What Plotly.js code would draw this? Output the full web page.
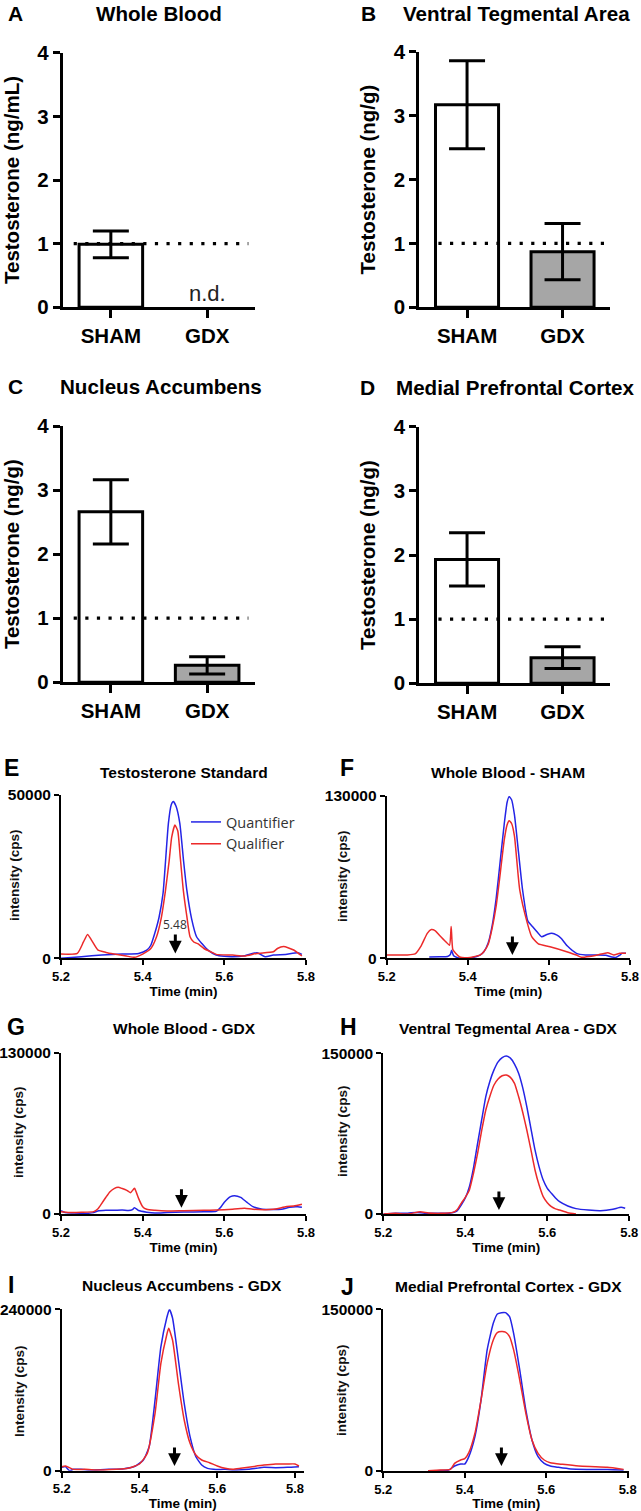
<!DOCTYPE html>
<html>
<head>
<meta charset="utf-8">
<script src="https://cdn.plot.ly/plotly-3.0.1.min.js"></script>
<style>
html,body{margin:0;padding:0;background:#ffffff;}
#chart{width:641px;height:1511px;}
</style>
</head>
<body>
<div id="chart"></div>
<script>
// ---------------- DATA ----------------
const groups = ['SHAM', 'GDX'];

// Testosterone (mean, SEM)
const bloodMean = [0.99, null];   // GDX not detected
const bloodSem  = [0.21, null];
const vtaMean   = [3.17, 0.87];
const vtaSem    = [0.69, 0.44];
const naccMean  = [2.66, 0.265];
const naccSem   = [0.50, 0.135];
const mpfcMean  = [1.93, 0.40];
const mpfcSem   = [0.415, 0.17];
const loqLevel  = [1];            // dotted limit line (ng)

// Chromatograms: time (min) and intensity (cps)
// E  Testosterone Standard
const stdQuantT = [5.20,5.25,5.30,5.35,5.39,5.41,5.42,5.43,5.44,5.45,5.455,5.463,5.47,5.475,5.482,5.491,5.50,5.508,5.52,5.532,5.545,5.56,5.58,5.60,5.62,5.65,5.68,5.70,5.72,5.75,5.78,5.79];
const stdQuant  = [0,500,1000,1300,1500,2500,4000,7800,12500,20000,28000,41300,47000,48000,46500,41300,30000,21000,12000,6600,4500,2500,1000,600,500,800,1700,500,1000,1200,1700,1200];
const stdQualT  = [5.20,5.24,5.255,5.265,5.275,5.29,5.31,5.33,5.36,5.38,5.40,5.42,5.434,5.445,5.456,5.465,5.471,5.479,5.486,5.492,5.4995,5.508,5.516,5.525,5.536,5.55,5.57,5.58,5.62,5.65,5.68,5.72,5.73,5.745,5.77,5.79];
const stdQual   = [1300,1500,5000,7300,5500,2600,1800,1300,700,300,1300,3000,6600,12000,20900,30000,37000,40800,39000,31000,20900,13000,6600,5000,4400,3000,1800,1200,1000,700,1500,2000,3000,3600,2550,700];

// F  Whole Blood - SHAM
const wbShamQuantT = [5.305,5.33,5.35,5.357,5.36,5.365,5.375,5.39,5.41,5.43,5.44,5.45,5.46,5.47,5.48,5.49,5.497,5.502,5.508,5.515,5.525,5.535,5.548,5.56,5.57,5.582,5.595,5.607,5.62,5.63,5.645,5.668,5.69,5.72,5.74,5.755,5.765,5.775,5.78,5.79];
const wbShamQuant  = [1000,1300,1500,3000,6500,2000,500,0,500,2500,5500,12000,26000,48000,78000,108000,125000,129500,127000,115000,85000,55000,30000,25300,21500,17300,19000,20000,18500,16000,10000,4000,2700,2700,2500,1000,700,2500,4000,4000];
const wbShamQualT  = [5.20,5.25,5.27,5.285,5.30,5.31,5.32,5.33,5.345,5.355,5.359,5.363,5.37,5.38,5.40,5.43,5.44,5.45,5.46,5.47,5.48,5.49,5.497,5.502,5.508,5.515,5.528,5.547,5.5576,5.574,5.6027,5.644,5.668,5.68,5.70,5.72,5.745,5.76,5.775,5.79];
const wbShamQual   = [2700,2700,3500,10000,20000,23000,22000,18500,13500,10500,25500,7000,4000,1000,500,2500,5500,11000,24000,42000,68000,95000,107000,110200,108000,98000,55000,28000,17300,11500,9300,5300,2600,800,1500,2700,4500,2700,4000,4000];

// G  Whole Blood - GDX
const wbGdxQuantT = [5.20,5.21,5.23,5.26,5.28,5.29,5.31,5.33,5.35,5.365,5.375,5.38,5.39,5.41,5.43,5.46,5.50,5.55,5.58,5.59,5.60,5.615,5.625,5.64,5.655,5.67,5.69,5.71,5.74,5.76,5.78,5.79];
const wbGdxQuant  = [2700,1100,800,500,1100,2500,3000,3000,3300,2800,3500,5100,2800,1500,800,1200,1600,1800,2100,5000,9500,14000,14800,13400,9500,5900,4000,3600,3800,5500,5800,5400];
const wbGdxQualT  = [5.20,5.22,5.25,5.28,5.29,5.30,5.31,5.32,5.33,5.34,5.35,5.36,5.37,5.38,5.385,5.39,5.40,5.41,5.43,5.46,5.50,5.55,5.58,5.62,5.64,5.65,5.67,5.70,5.72,5.74,5.75,5.77,5.79];
const wbGdxQual   = [1900,1300,1400,1900,4000,8600,13500,18000,20500,21500,20500,19300,17200,20700,17000,12600,5900,3800,3000,2400,2700,3000,3200,3800,4400,4600,3800,3500,3800,5000,5900,6400,7800];

// H  Ventral Tegmental Area - GDX
const vtaQuantT = [5.20,5.23,5.26,5.28,5.30,5.33,5.36,5.38,5.39,5.40,5.41,5.42,5.43,5.44,5.45,5.46,5.47,5.48,5.49,5.50,5.51,5.52,5.53,5.54,5.55,5.56,5.57,5.58,5.59,5.60,5.61,5.62,5.63,5.65,5.67,5.70,5.73,5.76,5.78,5.79];
const vtaQuant  = [0,600,800,1500,800,600,800,3000,8400,15000,25500,43000,66000,88000,109600,124000,134500,142000,146000,147500,145500,140000,131400,118000,100200,80000,59800,44000,31700,24000,19300,15000,11500,7500,5000,3700,3100,4400,6200,5300];
const vtaQualT  = [5.20,5.23,5.26,5.29,5.31,5.34,5.37,5.38,5.39,5.40,5.41,5.42,5.43,5.44,5.45,5.46,5.47,5.48,5.49,5.50,5.51,5.52,5.53,5.54,5.55,5.56,5.57,5.58,5.59,5.60,5.61,5.62,5.63,5.65,5.67];
const vtaQual   = [0,600,0,2200,1000,600,1500,4000,10000,15500,22400,38000,56600,78000,97100,110000,120400,126000,129000,129800,127500,122000,109600,95000,78400,60000,41100,27000,16200,10500,6800,4800,3700,1200,0];

// I  Nucleus Accumbens - GDX
const naccQuantT = [5.20,5.21,5.22,5.23,5.25,5.28,5.32,5.36,5.39,5.41,5.425,5.44,5.455,5.47,5.477,5.485,5.50,5.515,5.53,5.545,5.56,5.575,5.59,5.62,5.65,5.68,5.70,5.72,5.75,5.78,5.81];
const naccQuant  = [5000,6000,0,2000,2000,1000,2000,3000,7000,16000,36000,105000,184000,227000,240000,227000,165000,100000,50600,20800,8400,3500,2000,2000,1000,2000,3500,5000,4500,5000,6000];
const naccQualT  = [5.20,5.21,5.23,5.26,5.30,5.34,5.37,5.40,5.42,5.44,5.455,5.47,5.475,5.485,5.50,5.515,5.53,5.545,5.56,5.58,5.60,5.62,5.64,5.66,5.69,5.72,5.75,5.78,5.80,5.81];
const naccQual   = [6000,7000,2000,2000,1000,2000,3500,10000,25800,85300,159600,201800,211700,194300,129900,75400,40700,23300,15900,11900,7000,3500,2000,3500,6000,8400,10000,10000,10000,7000];

// J  Medial Prefrontal Cortex - GDX
const mpfcQuantT = [5.31,5.33,5.36,5.375,5.39,5.40,5.41,5.425,5.44,5.455,5.47,5.48,5.49,5.50,5.51,5.52,5.535,5.55,5.565,5.58,5.595,5.61,5.63,5.66,5.70,5.75,5.79];
const mpfcQuant  = [300,300,900,4600,6500,6500,13300,31900,65900,112300,137000,145700,146900,146900,143200,127700,93700,56600,28800,13300,7100,4600,3400,1900,1500,1500,1000];
const mpfcQualT  = [5.31,5.34,5.365,5.375,5.39,5.40,5.41,5.425,5.44,5.455,5.47,5.48,5.49,5.50,5.51,5.52,5.535,5.55,5.565,5.58,5.595,5.61,5.64,5.68,5.72,5.75,5.79];
const mpfcQual   = [300,900,1500,7100,10200,11400,17000,35000,65900,99900,121600,128400,129300,128800,124700,112300,84400,53500,28800,16400,10200,7700,6200,4600,4000,3400,1500];

// y-axis maxima of the chromatograms (E..J)
const chromMax = [50000, 130000, 130000, 150000, 240000, 150000];
// retention-time markers (arrow) and the intensity at their tip (E..J)
const markerTime = [5.48, 5.51, 5.495, 5.482, 5.49, 5.49];
const markerTip  = [1500, 2700, 5100, 3700, 7000, 4600];
const markerText = ['5.48', '', '', '', '', ''];
const seriesNames = ['Quantifier', 'Qualifier'];

// ---------------- STYLE / LAYOUT ----------------
const W = 641, H = 1511;
const fx = p => p / W;
const fy = p => 1 - p / H;
const SANS = 'Liberation Sans, Arial, Helvetica, sans-serif';
const BLUE = '#2424e6';
const RED = '#ec2a2a';
const BAR_FILL = ['#ffffff', '#a6a6a6'];

const layout = {
  width: W, height: H,
  margin: {l: 0, r: 0, t: 0, b: 0},
  paper_bgcolor: '#ffffff', plot_bgcolor: '#ffffff',
  showlegend: true,
  legend: {x: fx(186), y: fy(806), xanchor: 'left', yanchor: 'top',
           bgcolor: 'rgba(0,0,0,0)', borderwidth: 0,
           font: {family: 'Open Sans, sans-serif', size: 14.5, color: '#333'},
           tracegroupgap: 0, itemwidth: 30},
  annotations: [], shapes: []
};

function barAxes(n, xpx, ypx, ytitle) {
  const sx = n === 1 ? '' : n;
  layout['xaxis' + sx] = {
    domain: [fx(xpx[0]), fx(xpx[1])], anchor: 'y' + sx, type: 'category',
    range: [-0.5, 1.5], showline: true, linewidth: 3, linecolor: '#000',
    ticks: 'outside', ticklen: 8, tickwidth: 3, tickcolor: '#000',
    showgrid: false, zeroline: false,
    tickfont: {family: SANS, size: 20.5, weight: 'bold', color: '#000'}
  };
  layout['yaxis' + sx] = {
    domain: [fy(ypx[1]), fy(ypx[0])], anchor: 'x' + sx,
    range: [0, 4], tickvals: [0, 1, 2, 3, 4], showline: true, linewidth: 3, linecolor: '#000',
    ticks: 'outside', ticklen: 7, tickwidth: 3, tickcolor: '#000',
    showgrid: false, zeroline: false,
    tickfont: {family: SANS, size: 20.5, weight: 'bold', color: '#000'},
    title: {text: ytitle, font: {family: SANS, size: 20.5, weight: 'bold', color: '#000'}, standoff: 13}
  };
}
function chromAxes(n, xpx, ypx, xmax, ymax) {
  layout['xaxis' + n] = {
    domain: [fx(xpx[0]), fx(xpx[1])], anchor: 'y' + n,
    range: [5.2, xmax], tickvals: [5.2, 5.4, 5.6, 5.8], showline: true, linewidth: 2, linecolor: '#000',
    ticks: 'outside', ticklen: 5, tickwidth: 2, tickcolor: '#000',
    showgrid: false, zeroline: false,
    tickfont: {family: SANS, size: 13, weight: 'bold', color: '#000'},
    title: {text: 'Time (min)', font: {family: SANS, size: 13.5, weight: 'bold', color: '#000'}, standoff: 0}
  };
  layout['yaxis' + n] = {
    domain: [fy(ypx[1]), fy(ypx[0])], anchor: 'x' + n,
    range: [0, ymax], tickvals: [0, ymax], tickformat: 'd', showline: true, linewidth: 2, linecolor: '#000',
    ticks: 'outside', ticklen: 5, tickwidth: 2, tickcolor: '#000',
    showgrid: false, zeroline: false,
    tickfont: {family: SANS, size: 15.5, weight: 'bold', color: '#000'}
  };
}

barAxes(1, [62.7, 255.3], [52.7, 307.3], 'Testosterone (ng/mL)');
barAxes(2, [419.3, 610.3], [51.7, 307.3], 'Testosterone (ng/g)');
barAxes(3, [62.7, 255.3], [426, 682.3], 'Testosterone (ng/g)');
barAxes(4, [419.3, 610.3], [426.7, 683.3], 'Testosterone (ng/g)');

chromAxes(5, [61, 306], [795, 958.3], 5.8, chromMax[0]);
chromAxes(6, [386.7, 630], [796, 958.3], 5.8, chromMax[1]);
chromAxes(7, [61, 306], [1052.7, 1214], 5.8, chromMax[2]);
chromAxes(8, [383.3, 629.3], [1053.3, 1214], 5.8, chromMax[3]);
chromAxes(9, [61.7, 304], [1309.3, 1470.7], 5.823, chromMax[4]);
chromAxes(10, [383.3, 629.3], [1309.3, 1471], 5.804, chromMax[5]);

const traces = [];
const barData = [[bloodMean, bloodSem], [vtaMean, vtaSem], [naccMean, naccSem], [mpfcMean, mpfcSem]];
barData.forEach((d, i) => {
  const sx = i === 0 ? '' : (i + 1);
  traces.push({
    type: 'bar', x: groups, y: d[0], xaxis: 'x' + sx, yaxis: 'y' + sx,
    width: 0.66, showlegend: false, hoverinfo: 'skip',
    marker: {color: BAR_FILL, line: {color: '#000', width: 3}},
    error_y: {type: 'data', array: d[1], visible: true, color: '#000', thickness: 3, width: 18}
  });
  // dotted limit line
  layout.shapes.push({
    type: 'line', xref: 'x' + sx + ' domain', yref: 'y' + sx,
    x0: i % 2 === 0 ? 0.057 : 0.10, x1: i % 2 === 0 ? 0.964 : 0.972,
    y0: loqLevel[0], y1: loqLevel[0], layer: 'above',
    line: {color: '#000', width: 3.2, dash: '3.2px,8.4px'}
  });
});

layout.annotations.push({
  xref: 'x', yref: 'y', x: 1, y: 0.22, text: 'n.d.', showarrow: false,
  xanchor: 'center', yanchor: 'middle',
  font: {family: SANS, size: 22, color: '#222'}
});

const chromData = [
  [stdQuantT, stdQuant, stdQualT, stdQual],
  [wbShamQuantT, wbShamQuant, wbShamQualT, wbShamQual],
  [wbGdxQuantT, wbGdxQuant, wbGdxQualT, wbGdxQual],
  [vtaQuantT, vtaQuant, vtaQualT, vtaQual],
  [naccQuantT, naccQuant, naccQualT, naccQual],
  [mpfcQuantT, mpfcQuant, mpfcQualT, mpfcQual]
];
chromData.forEach((d, i) => {
  const n = i + 5;
  traces.push({
    type: 'scatter', mode: 'lines', x: d[0], y: d[1], xaxis: 'x' + n, yaxis: 'y' + n,
    name: seriesNames[0], showlegend: i === 0, hoverinfo: 'skip',
    line: {color: BLUE, width: 1.5, shape: 'spline', smoothing: 0.5}
  });
  traces.push({
    type: 'scatter', mode: 'lines', x: d[2], y: d[3], xaxis: 'x' + n, yaxis: 'y' + n,
    name: seriesNames[1], showlegend: i === 0, hoverinfo: 'skip',
    line: {color: RED, width: 1.5, shape: 'spline', smoothing: 0.5}
  });
  layout.annotations.push({
    xref: 'x' + n, yref: 'y' + n, x: markerTime[i], y: markerTip[i],
    text: markerText[i], showarrow: true, ax: 0, ay: markerText[i] ? -29 : -20,
    arrowhead: 2, arrowsize: 0.85, arrowwidth: 3, arrowcolor: '#000', standoff: 0,
    font: {family: 'Open Sans, sans-serif', size: 12, color: '#333'}
  });
});

// panel titles & letters
const titleList = [
  ['A', 15, 14, 'Whole Blood', 159, 14, 20.6],
  ['B', 368, 14, 'Ventral Tegmental Area', 516, 14, 20.6],
  ['C', 15, 386, 'Nucleus Accumbens', 160.5, 386, 20.6],
  ['D', 367, 387, 'Medial Prefrontal Cortex', 515, 387, 20.6],
  ['E', 11, 768, 'Testosterone Standard', 184, 772, 15.5],
  ['F', 347, 768, 'Whole Blood - SHAM', 508, 772, 15.5],
  ['G', 16, 1027, 'Whole Blood - GDX', 185, 1028, 15.5],
  ['H', 348, 1027, 'Ventral Tegmental Area - GDX', 508, 1028, 15.5],
  ['I', 11, 1285, 'Nucleus Accumbens - GDX', 182, 1285, 15.5],
  ['J', 347, 1287, 'Medial Prefrontal Cortex - GDX', 508, 1286, 15.5]
];
titleList.forEach(t => {
  layout.annotations.push({
    xref: 'paper', yref: 'paper', x: fx(t[1]), y: fy(t[2]), text: t[0], showarrow: false,
    xanchor: 'center', yanchor: 'middle',
    font: {family: SANS, size: t[6] > 18 ? 21 : 23, weight: 'bold', color: '#000'}
  });
  layout.annotations.push({
    xref: 'paper', yref: 'paper', x: fx(t[4]), y: fy(t[5]), text: t[3], showarrow: false,
    xanchor: 'center', yanchor: 'middle',
    font: {family: SANS, size: t[6], weight: 'bold', color: '#000'}
  });
});

// chromatogram y-axis titles
const yTitles = [
  ['intensity (cps)', 15, 875], ['intensity (cps)', 342, 876],
  ['intensity (cps)', 18, 1132], ['intensity (cps)', 342, 1131],
  ['Intensity (cps)', 19, 1391], ['intensity (cps)', 341, 1390]
];
yTitles.forEach(t => {
  layout.annotations.push({
    xref: 'paper', yref: 'paper', x: fx(t[1]), y: fy(t[2]), text: t[0], textangle: -90,
    showarrow: false, xanchor: 'center', yanchor: 'middle',
    font: {family: SANS, size: 13.5, weight: 'bold', color: '#111'}
  });
});

Plotly.newPlot('chart', traces, layout, {staticPlot: true, displayModeBar: false});
</script>
</body>
</html>
